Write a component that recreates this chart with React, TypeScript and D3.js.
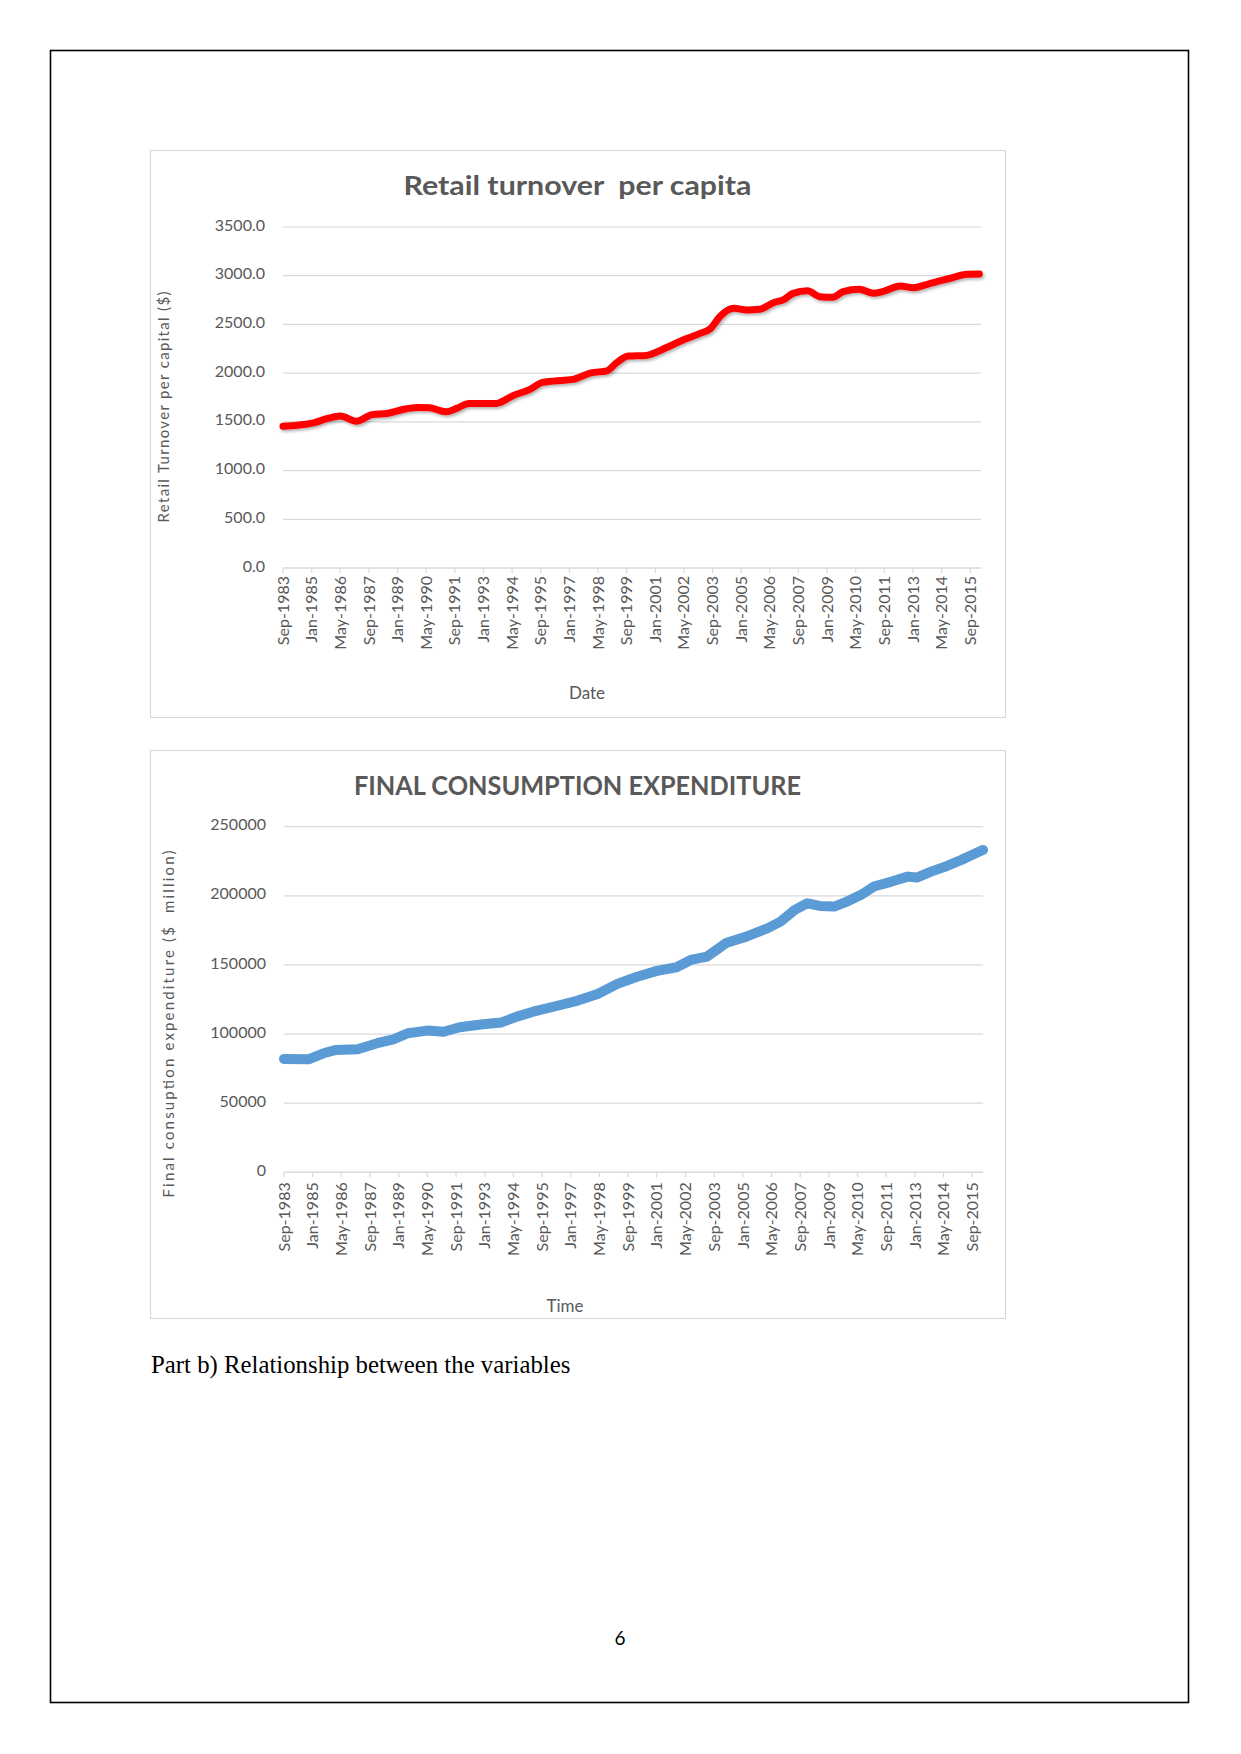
import React from 'react';
import * as d3 from 'd3';

// ---------- data ----------
const retailDates = [
  '1983-09', '1984-05', '1985-02', '1985-10', '1986-05', '1987-02', '1987-11', '1988-07',
  '1989-04', '1989-12', '1990-07', '1991-04', '1991-10', '1992-05', '1993-01', '1993-08',
  '1994-06', '1995-03', '1995-10', '1996-10', '1997-03', '1998-01', '1998-10', '1999-03',
  '1999-10', '2000-08', '2001-02', '2001-07', '2002-07', '2003-02', '2003-08', '2004-01',
  '2004-09', '2005-04', '2005-11', '2006-07', '2007-01', '2007-06', '2008-02', '2008-09',
  '2009-04', '2009-10', '2010-07', '2011-03', '2011-08', '2012-06', '2013-01', '2013-09',
  '2014-04', '2014-11', '2015-07', '2016-02',
];
const retailValues = [
  1455, 1466, 1490, 1535, 1559, 1507, 1576, 1586,
  1627, 1648, 1644, 1603, 1638, 1689, 1689, 1689,
  1774, 1833, 1905, 1928, 1936, 2003, 2024, 2100,
  2175, 2182, 2219, 2260, 2357, 2408, 2460, 2579,
  2665, 2648, 2655, 2723, 2757, 2819, 2846, 2784,
  2778, 2836, 2860, 2819, 2836, 2894, 2877, 2912,
  2946, 2979, 3014, 3017,
];

const fceDates = [
  '1983-09', '1984-11', '1985-07', '1986-02', '1987-02', '1988-01', '1988-10', '1989-06',
  '1990-05', '1991-02', '1991-11', '1992-12', '1993-10', '1994-07', '1995-04', '1996-05',
  '1997-05', '1998-04', '1999-03', '2000-02', '2001-01', '2001-12', '2002-08', '2003-05',
  '2004-04', '2005-03', '2006-03', '2006-10', '2007-06', '2008-01', '2008-08', '2009-04',
  '2009-11', '2010-07', '2011-02', '2011-12', '2012-09', '2013-02', '2013-10', '2014-07',
  '2015-03', '2015-10', '2016-03',
];
const fceValues = [
  82000, 81800, 86100, 88500, 89000, 93400, 96200, 100600,
  102500, 101700, 104900, 107100, 108300, 112600, 116200, 120300,
  124200, 129000, 136300, 141500, 145700, 148300, 153600, 156000,
  166100, 170500, 176600, 181300, 189800, 194600, 192700, 192200,
  195800, 200700, 206700, 210300, 213900, 213200, 217500, 221600,
  226000, 230300, 233200,
];

const xTickLabels = [
  'Sep-1983', 'Jan-1985', 'May-1986', 'Sep-1987', 'Jan-1989', 'May-1990', 'Sep-1991',
  'Jan-1993', 'May-1994', 'Sep-1995', 'Jan-1997', 'May-1998', 'Sep-1999', 'Jan-2001',
  'May-2002', 'Sep-2003', 'Jan-2005', 'May-2006', 'Sep-2007', 'Jan-2009', 'May-2010',
  'Sep-2011', 'Jan-2013', 'May-2014', 'Sep-2015',
];
const xDomainLabels = ['1983-09', '2016-03'];
const retailYTicks = [0, 500, 1000, 1500, 2000, 2500, 3000, 3500];
const fceYTicks = [0, 50000, 100000, 150000, 200000, 250000];

// ---------- helpers ----------
const parseYM = d3.utcParse('%Y-%m');
const parseTick = d3.utcParse('%b-%Y');
const FONT = "Lato, 'Open Sans', 'DejaVu Sans', sans-serif";
const GREY = '#595959';
const GRID = '#D9D9D9';

type ChartProps = {
  frame: { x: number; y: number; w: number; h: number };
  plot: { left: number; right: number; top: number; bottom: number };
  yMax: number;
  yTicks: number[];
  yFmt: (v: number) => string;
  dates: string[];
  values: number[];
  color: string;
  strokeW: number;
  curved: boolean;
  shadowId?: string;
  title: string;
  titleLen: number;
  titleBaseline: number;
  yTitle: string;
  yTitleX: number;
  yTitleY: number;
  yTitleLen: number;
  yTitleSize: number;
  xTitle: string;
  xTitleX: number;
  xTitleY: number;
  labelGap: number;
  yLabelRight: number;
};

function Chart(p: ChartProps) {
  const x = d3
    .scaleUtc()
    .domain([parseYM(xDomainLabels[0])!, parseYM(xDomainLabels[1])!])
    .range([p.plot.left, p.plot.right]);
  const y = d3.scaleLinear().domain([0, p.yMax]).range([p.plot.bottom, p.plot.top]);
  const pts: [Date, number][] = p.dates.map((d, i) => [parseYM(d)!, p.values[i]]);
  const line = d3
    .line<[Date, number]>()
    .x((d) => x(d[0]))
    .y((d) => y(d[1]))
    .curve(p.curved ? d3.curveMonotoneX : d3.curveLinear);
  const ticks = xTickLabels.map((t) => ({ t, d: parseTick(t)! }));
  const cx = p.frame.x + p.frame.w / 2;

  return (
    <g>
      <rect
        x={p.frame.x + 0.5}
        y={p.frame.y + 0.5}
        width={p.frame.w}
        height={p.frame.h}
        fill="#fff"
        stroke={GRID}
        strokeWidth={1.2}
      />
      <text
        x={cx}
        y={p.titleBaseline}
        textAnchor="middle"
        fontFamily={FONT}
        fontWeight={700}
        fontSize={27}
        fill={GREY}
        textLength={p.titleLen}
        lengthAdjust="spacingAndGlyphs"
        style={{ whiteSpace: 'pre' }}
      >
        {p.title}
      </text>
      {p.yTicks.map((v) => (
        <g key={v}>
          {v !== 0 && (
            <line
              x1={p.plot.left}
              x2={p.plot.right}
              y1={y(v)}
              y2={y(v)}
              stroke={GRID}
              strokeWidth={1.2}
            />
          )}
          <text
            x={p.yLabelRight}
            y={y(v) - 2}
            dy="0.35em"
            textAnchor="end"
            fontFamily={FONT}
            fontSize={16}
            fill={GREY}
          >
            {p.yFmt(v)}
          </text>
        </g>
      ))}
      <line
        x1={p.plot.left}
        x2={p.plot.right}
        y1={p.plot.bottom}
        y2={p.plot.bottom}
        stroke={GRID}
        strokeWidth={1.4}
      />
      {ticks.map(({ t, d }) => (
        <g key={t}>
          <line
            x1={x(d)}
            x2={x(d)}
            y1={p.plot.bottom}
            y2={p.plot.bottom + 5}
            stroke={GRID}
            strokeWidth={1.2}
          />
          <text
            transform={`translate(${x(d)},${p.plot.bottom + p.labelGap}) rotate(-90)`}
            dy="0.35em"
            textAnchor="end"
            fontFamily={FONT}
            fontSize={16}
            fill={GREY}
          >
            {t}
          </text>
        </g>
      ))}
      <text
        transform={`translate(${p.yTitleX},${p.yTitleY}) rotate(-90)`}
        dy="0.35em"
        textAnchor="middle"
        fontFamily={FONT}
        fontSize={p.yTitleSize}
        fill={GREY}
        textLength={p.yTitleLen}
        lengthAdjust="spacing"
        style={{ whiteSpace: 'pre' }}
      >
        {p.yTitle}
      </text>
      <text
        x={p.xTitleX}
        y={p.xTitleY}
        dy="0.35em"
        textAnchor="middle"
        fontFamily={FONT}
        fontSize={17}
        fill={GREY}
      >
        {p.xTitle}
      </text>
      <path
        d={line(pts) || ''}
        fill="none"
        stroke={p.color}
        strokeWidth={p.strokeW}
        strokeLinecap="round"
        strokeLinejoin="round"
        filter={p.shadowId ? `url(#${p.shadowId})` : undefined}
      />
    </g>
  );
}

export default function App() {
  return (
    <svg
      width={1241}
      height={1754}
      viewBox="0 0 1241 1754"
      style={{ position: 'absolute', left: 0, top: 0, background: '#fff' }}
    >
      <defs>
        <filter id="redShadow" x="-5%" y="-20%" width="110%" height="140%">
          <feDropShadow dx={1.5} dy={2} stdDeviation={1.5} floodColor="#000" floodOpacity={0.3} />
        </filter>
      </defs>
      <rect x={0} y={0} width={1241} height={1754} fill="#fff" />
      <rect x={50.5} y={50.5} width={1138} height={1652} fill="none" stroke="#000" strokeWidth={1.6} />

      <Chart
        frame={{ x: 150, y: 150, w: 855, h: 567 }}
        plot={{ left: 283, right: 981, top: 227, bottom: 568 }}
        yMax={3500}
        yTicks={retailYTicks}
        yFmt={d3.format('.1f')}
        dates={retailDates}
        values={retailValues}
        color="#FF0000"
        strokeW={7}
        curved={true}
        shadowId="redShadow"
        title="Retail turnover  per capita"
        titleLen={348}
        titleBaseline={195}
        yTitle="Retail Turnover per capital ($)"
        yTitleX={164}
        yTitleY={407}
        yTitleLen={231}
        yTitleSize={15}
        xTitle="Date"
        xTitleX={587}
        xTitleY={693}
        labelGap={8}
        yLabelRight={265}
      />

      <Chart
        frame={{ x: 150, y: 750, w: 855, h: 568 }}
        plot={{ left: 284, right: 983, top: 826.7, bottom: 1172.3 }}
        yMax={250000}
        yTicks={fceYTicks}
        yFmt={d3.format('d')}
        dates={fceDates}
        values={fceValues}
        color="#5B9BD5"
        strokeW={10}
        curved={false}
        title="FINAL CONSUMPTION EXPENDITURE"
        titleLen={447}
        titleBaseline={795}
        yTitle="Final consuption expenditure ($  million)"
        yTitleX={169}
        yTitleY={1024}
        yTitleLen={347}
        yTitleSize={15}
        xTitle="Time"
        xTitleX={565}
        xTitleY={1306}
        labelGap={10}
        yLabelRight={266}
      />

      <text x={151} y={1373} fontFamily="'Liberation Serif', 'Times New Roman', serif" fontSize={24.8} fill="#000">
        Part b) Relationship between the variables
      </text>
      <text x={620} y={1645} textAnchor="middle" fontFamily={FONT} fontSize={19} fill="#000">
        6
      </text>
    </svg>
  );
}
